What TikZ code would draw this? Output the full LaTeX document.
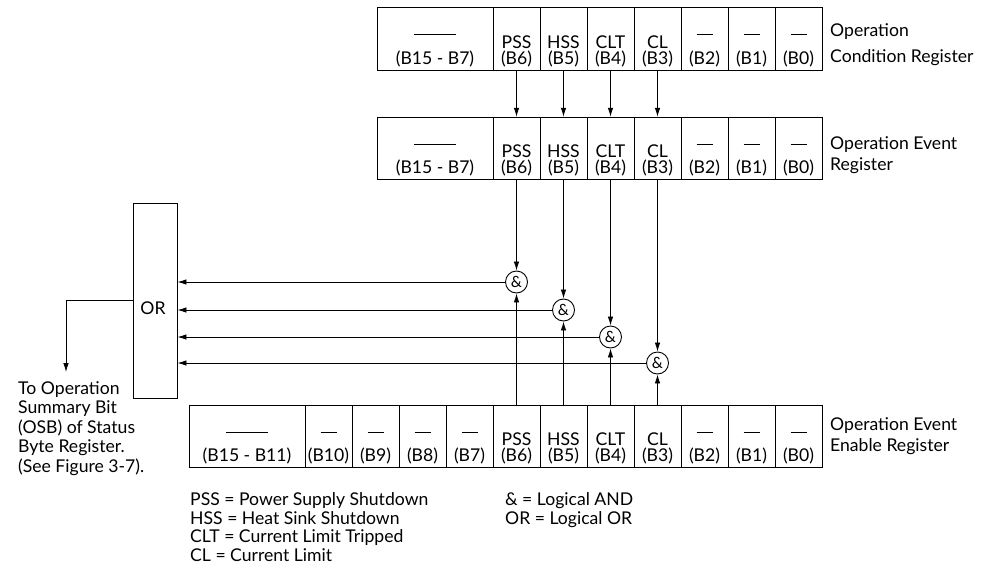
\documentclass[tikz,border=0pt]{standalone}
\usepackage{fontspec}
\setmainfont{Lato}
\usetikzlibrary{arrows.meta,positioning}

\newcommand{\nobit}{\raisebox{13.5pt}{\rule{16pt}{0.9pt}}}
\newcommand{\nofield}{\raisebox{13.5pt}{\rule{42pt}{0.9pt}}}

\begin{document}
\begin{tikzpicture}[x=1pt,y=-1pt,>={Latex[length=9pt,width=5.5pt]},
  every node/.style={font=\fontsize{17.6}{16}\selectfont},
  cell/.style={draw,line width=0.9pt,minimum width=47pt,minimum height=62.5pt,inner sep=0pt},
  bigcell/.style={cell,minimum width=116pt},
  bits/.style={anchor=south,align=center,inner sep=0pt,yshift=3.5pt},
  gate/.style={draw,circle,line width=0.9pt,minimum size=22pt,inner sep=0pt,font=\fontsize{15.5}{15.5}\selectfont},
  wire/.style={line width=0.85pt},
  regname/.style={anchor=north west,align=left,inner sep=0pt,font=\fontsize{17.6}{21}\selectfont},
  note/.style={anchor=north west,align=left,inner sep=0pt,font=\fontsize{17.6}{19.5}\selectfont},
  legend/.style={anchor=north west,align=left,inner sep=0pt,font=\fontsize{17.6}{18.5}\selectfont}]
\useasboundingbox (0,0) rectangle (984,570);

% operation condition register
\node[bigcell] (ocH) at (435,39) {};
\node[bits] at (ocH.south) {\nofield\\(B15 - B7)};
\foreach \b/\x/\t in {6/516.5/PSS,5/563.5/HSS,4/610.5/CLT,3/657.5/CL,2/704.5/\nobit,1/751.5/\nobit,0/798.5/\nobit}{
  \node[cell] (oc\b) at (\x,39) {};
  \node[bits] at (oc\b.south) {\t\\(B\b)};
}
\node[regname] (ocname) at (830,23.5) {Operation\\[5pt]Condition Register};

% operation event register
\node[bigcell] (oeH) at (435,148.5) {};
\node[bits] at (oeH.south) {\nofield\\(B15 - B7)};
\foreach \b/\x/\t in {6/516.5/PSS,5/563.5/HSS,4/610.5/CLT,3/657.5/CL,2/704.5/\nobit,1/751.5/\nobit,0/798.5/\nobit}{
  \node[cell] (oe\b) at (\x,148.5) {};
  \node[bits] at (oe\b.south) {\t\\(B\b)};
}
\node[regname] (oename) at (830,136) {Operation Event\\Register};

% operation event enable register
\node[bigcell] (enH) at (247,436.5) {};
\node[bits] at (enH.south) {\nofield\\(B15 - B11)};
\foreach \b/\x/\t in {10/328.5/\nobit,9/375.5/\nobit,8/422.5/\nobit,7/469.5/\nobit,6/516.5/PSS,5/563.5/HSS,4/610.5/CLT,3/657.5/CL,2/704.5/\nobit,1/751.5/\nobit,0/798.5/\nobit}{
  \node[cell] (en\b) at (\x,436.5) {};
  \node[bits] at (en\b.south) {\t\\(B\b)};
}
\node[regname] (enname) at (830,417.5) {Operation Event\\Enable Register};

% and gates, or box
\node[gate] (g6) at (516.5,282) {\&};
\node[gate] (g5) at (563.5,310) {\&};
\node[gate] (g4) at (610.5,337) {\&};
\node[gate] (g3) at (657.5,363) {\&};
\node[draw,line width=0.9pt,minimum width=44pt,minimum height=195pt,inner sep=0pt] (orb) at (155,300.5) {};
\node (ortext) at (153,308) {OR};

\foreach \b in {6,5,4,3}{
  \draw[wire,->] (oc\b.south) -- (oe\b.north);
  \draw[wire,->] (oe\b.south) -- (g\b.north);
  \draw[wire,->] (en\b.north) -- (g\b.south);
  \draw[wire,->] (g\b.west) -- (g\b.west -| orb.east);
}

\coordinate (osb) at (66,372);
\draw[wire,->] (orb.west) -- (orb.west -| osb) -- (osb);
\node[note] (osbtext) at (18,381) {To Operation\\Summary Bit\\(OSB) of Status\\Byte Register.\\(See Figure 3-7).};

% legend
\node[legend] (abbr) at (190,492.5) {PSS = Power Supply Shutdown\\HSS = Heat Sink Shutdown\\CLT = Current Limit Tripped\\CL = Current Limit};
\node[legend] (ops) at (505,492.5) {\& = Logical AND\\OR = Logical OR};
\end{tikzpicture}
\end{document}
